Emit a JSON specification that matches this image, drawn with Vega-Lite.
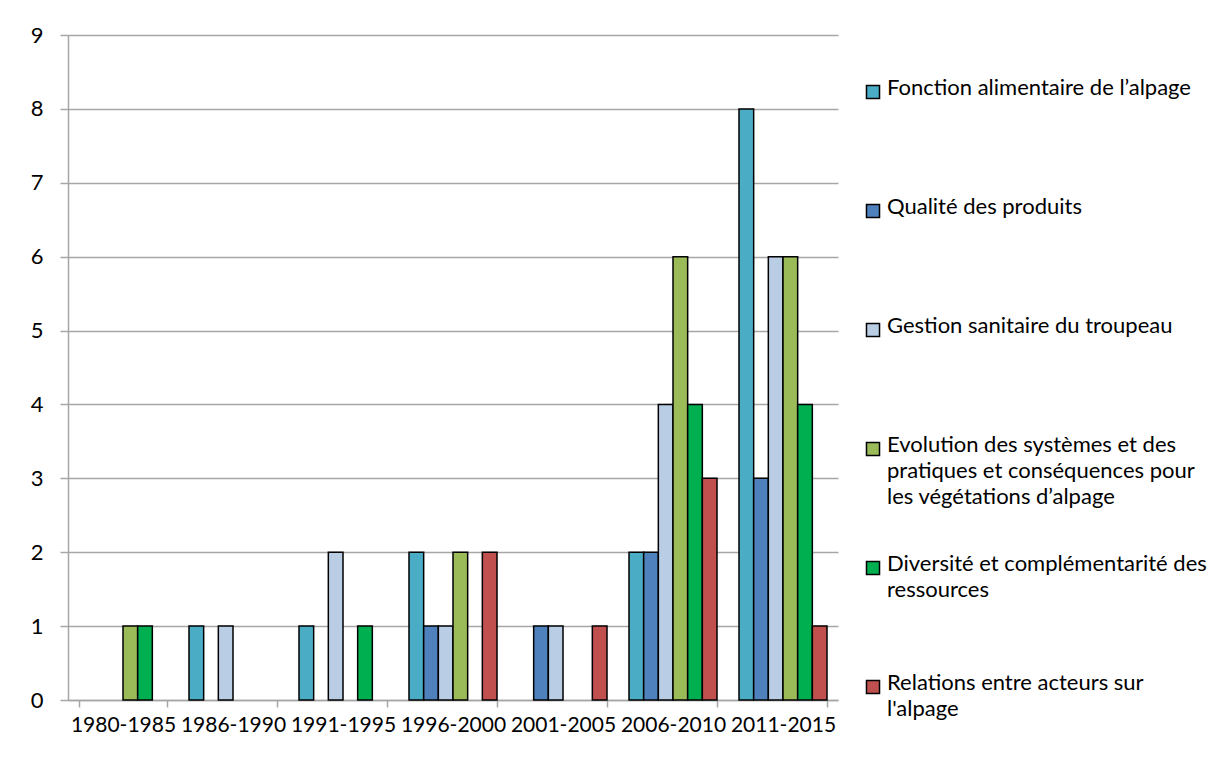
{
  "$schema": "https://vega.github.io/schema/vega-lite/v6.json",
  "autosize": "none",
  "width": 770,
  "height": 665,
  "padding": {"left": 68, "top": 35, "right": 380, "bottom": 63},
  "background": "white",
  "config": {
    "font": "Lato",
    "view": {"stroke": null},
    "axis": {"labelFont": "Lato", "labelColor": "#000000", "domainColor": "#A6A6A6", "tickColor": "#A6A6A6", "gridColor": "#A6A6A6", "domainWidth": 1.5, "tickWidth": 1.5, "gridWidth": 1.5},
    "legend": {"labelFont": "Lato"}
  },
  "data": {
    "values": [
      {"periode": "1980-1985", "theme": "Evolution des systèmes et des pratiques et conséquences pour les végétations d’alpage", "n": 1},
      {"periode": "1980-1985", "theme": "Diversité et complémentarité des ressources", "n": 1},
      {"periode": "1986-1990", "theme": "Fonction alimentaire de l’alpage", "n": 1},
      {"periode": "1986-1990", "theme": "Gestion sanitaire du troupeau", "n": 1},
      {"periode": "1991-1995", "theme": "Fonction alimentaire de l’alpage", "n": 1},
      {"periode": "1991-1995", "theme": "Gestion sanitaire du troupeau", "n": 2},
      {"periode": "1991-1995", "theme": "Diversité et complémentarité des ressources", "n": 1},
      {"periode": "1996-2000", "theme": "Fonction alimentaire de l’alpage", "n": 2},
      {"periode": "1996-2000", "theme": "Qualité des produits", "n": 1},
      {"periode": "1996-2000", "theme": "Gestion sanitaire du troupeau", "n": 1},
      {"periode": "1996-2000", "theme": "Evolution des systèmes et des pratiques et conséquences pour les végétations d’alpage", "n": 2},
      {"periode": "1996-2000", "theme": "Relations entre acteurs sur l'alpage", "n": 2},
      {"periode": "2001-2005", "theme": "Qualité des produits", "n": 1},
      {"periode": "2001-2005", "theme": "Gestion sanitaire du troupeau", "n": 1},
      {"periode": "2001-2005", "theme": "Relations entre acteurs sur l'alpage", "n": 1},
      {"periode": "2006-2010", "theme": "Fonction alimentaire de l’alpage", "n": 2},
      {"periode": "2006-2010", "theme": "Qualité des produits", "n": 2},
      {"periode": "2006-2010", "theme": "Gestion sanitaire du troupeau", "n": 4},
      {"periode": "2006-2010", "theme": "Evolution des systèmes et des pratiques et conséquences pour les végétations d’alpage", "n": 6},
      {"periode": "2006-2010", "theme": "Diversité et complémentarité des ressources", "n": 4},
      {"periode": "2006-2010", "theme": "Relations entre acteurs sur l'alpage", "n": 3},
      {"periode": "2011-2015", "theme": "Fonction alimentaire de l’alpage", "n": 8},
      {"periode": "2011-2015", "theme": "Qualité des produits", "n": 3},
      {"periode": "2011-2015", "theme": "Gestion sanitaire du troupeau", "n": 6},
      {"periode": "2011-2015", "theme": "Evolution des systèmes et des pratiques et conséquences pour les végétations d’alpage", "n": 6},
      {"periode": "2011-2015", "theme": "Diversité et complémentarité des ressources", "n": 4},
      {"periode": "2011-2015", "theme": "Relations entre acteurs sur l'alpage", "n": 1}
    ]
  },
  "mark": {"type": "bar", "stroke": "#000000", "strokeWidth": 1.5},
  "encoding": {
    "x": {
      "field": "periode", "type": "nominal",
      "scale": {"domain": ["1980-1985","1986-1990","1991-1995","1996-2000","2001-2005","2006-2010","2011-2015"], "paddingInner": 0.2, "paddingOuter": 0.1},
      "axis": {"title": null, "labelAngle": 0, "labelFontSize": 21, "labelPadding": 7, "tickBand": "extent", "tickSize": 7, "grid": false}
    },
    "xOffset": {
      "field": "theme", "type": "nominal",
      "scale": {"domain": ["Fonction alimentaire de l’alpage", "Qualité des produits", "Gestion sanitaire du troupeau", "Evolution des systèmes et des pratiques et conséquences pour les végétations d’alpage", "Diversité et complémentarité des ressources", "Relations entre acteurs sur l'alpage"], "paddingInner": 0, "paddingOuter": 0}
    },
    "y": {
      "field": "n", "type": "quantitative",
      "scale": {"domain": [0, 9], "nice": false},
      "axis": {"title": null, "values": [0,1,2,3,4,5,6,7,8,9], "labelFontSize": 22, "tickSize": 8, "labelPadding": 17, "grid": true}
    },
    "color": {
      "field": "theme", "type": "nominal",
      "scale": {
        "domain": ["Fonction alimentaire de l’alpage", "Qualité des produits", "Gestion sanitaire du troupeau", "Evolution des systèmes et des pratiques et conséquences pour les végétations d’alpage", "Diversité et complémentarité des ressources", "Relations entre acteurs sur l'alpage"],
        "range": ["#4BACC6", "#4F81BD", "#B9CDE5", "#9BBB59", "#00B050", "#C0504D"]
      },
      "legend": {
        "title": null,
        "orient": "none",
        "legendX": 794,
        "legendY": 46,
        "padding": 0,
        "symbolType": "square",
        "symbolSize": 170,
        "symbolStrokeColor": "#000000",
        "symbolStrokeWidth": 1.5,
        "symbolOpacity": 1,
        "labelFontSize": 22,
        "labelColor": "#000000",
        "labelLimit": 400,
        "labelBaseline": "top",
        "labelOffset": 3,
        "rowPadding": 45,
        "labelExpr": "indexof(datum.label,'Evolution')==0 ? ['Evolution des systèmes et des','pratiques et conséquences pour','les végétations d’alpage'] : indexof(datum.label,'Diversit')==0 ? ['Diversité et complémentarité des','ressources',''] : indexof(datum.label,'Relations')==0 ? ['Relations entre acteurs sur',\"l'alpage\",''] : [datum.label,'','']",
        "encode": {"labels": {"update": {"dy": {"value": -14}, "lineHeight": {"value": 26}}}}
      }
    }
  }
}
